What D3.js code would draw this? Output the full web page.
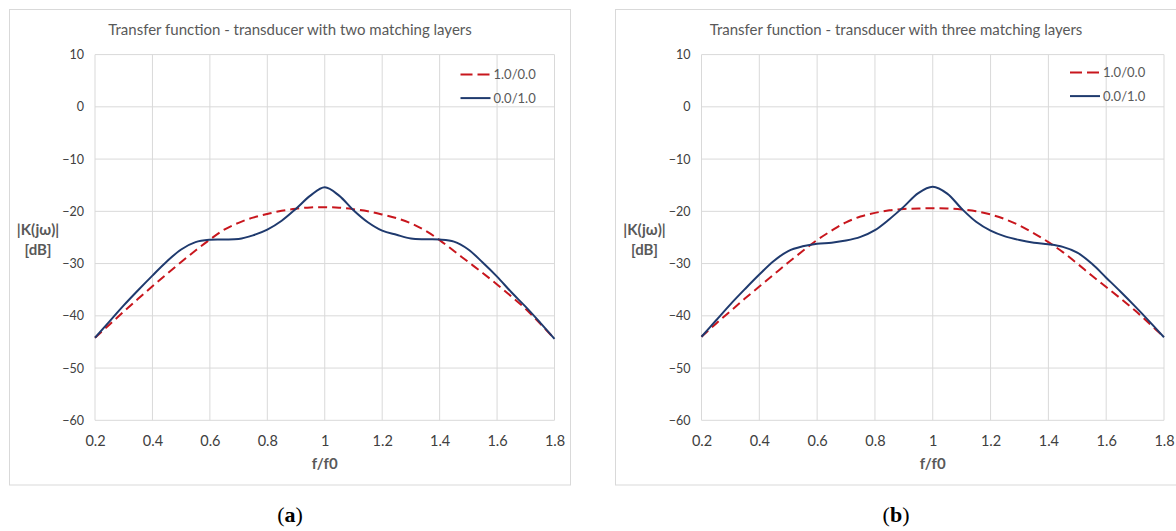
<!DOCTYPE html>
<html>
<head>
<meta charset="utf-8">
<script src="https://cdn.jsdelivr.net/npm/d3@7"></script>
<style>
  body { margin: 0; background: #fff; }
  svg { display: block; }
  .tick text { font-family: Lato, "Liberation Sans", sans-serif; }
</style>
</head>
<body>
<svg id="chart" width="1176" height="531"></svg>
<script>
// f/f0 sample points (shared by every curve)
const fRatio = [0.2, 0.25, 0.3, 0.35, 0.4, 0.45, 0.5, 0.55, 0.6, 0.65, 0.7, 0.75, 0.8, 0.85, 0.9, 0.95, 1.0,
                1.05, 1.1, 1.15, 1.2, 1.25, 1.3, 1.35, 1.4, 1.45, 1.5, 1.55, 1.6, 1.65, 1.7, 1.75, 1.8];

// |K(jw)| in dB, transducer with two matching layers
const twoLayers_10 = [-44.2, -41.7, -39.2, -36.75, -34.35, -32.0, -29.7, -27.5, -25.4, -23.5, -22.2, -21.2, -20.5,
                      -19.9, -19.5, -19.25, -19.2, -19.3, -19.6, -20.0, -20.6, -21.3, -22.3, -23.7, -25.5, -27.6,
                      -29.7, -31.8, -34.0, -36.3, -38.7, -41.5, -44.4];
const twoLayers_01 = [-44.2, -41.1, -38.0, -35.1, -32.3, -29.6, -27.3, -25.9, -25.45, -25.4, -25.3, -24.6, -23.5,
                      -21.8, -19.5, -17.0, -15.4, -17.0, -19.8, -22.1, -23.7, -24.5, -25.2, -25.35, -25.4, -25.8,
                      -27.3, -29.8, -32.5, -35.5, -38.3, -41.3, -44.4];

// |K(jw)| in dB, transducer with three matching layers
const threeLayers_10 = [-44.0, -41.5, -39.1, -36.7, -34.4, -32.1, -29.8, -27.6, -25.5, -23.7, -22.1, -21.0, -20.3,
                        -19.8, -19.55, -19.45, -19.4, -19.45, -19.65, -20.0, -20.6, -21.5, -22.7, -24.2, -25.9, -27.8,
                        -30.0, -32.3, -34.5, -36.7, -39.0, -41.5, -44.1];
const threeLayers_01 = [-44.0, -40.9, -37.8, -34.9, -32.1, -29.5, -27.6, -26.7, -26.2, -26.0, -25.6, -24.9, -23.6,
                        -21.5, -19.1, -16.5, -15.3, -16.6, -19.5, -22.0, -23.7, -24.8, -25.5, -26.0, -26.3, -26.8,
                        -27.9, -30.0, -32.7, -35.4, -38.2, -41.1, -44.1];

const seriesNames = ["1.0/0.0", "0.0/1.0"];
const xTicks = [0.2, 0.4, 0.6, 0.8, 1, 1.2, 1.4, 1.6, 1.8];
const yTicks = [10, 0, -10, -20, -30, -40, -50, -60];
const titles = ["Transfer function - transducer with two matching layers",
                "Transfer function - transducer with three matching layers"];
const captions = ["a", "b"];

const colors = ["#c8161d", "#1f3a6e"];
const gridColor = "#d9d9d9";
const textGray = "#595959";
const font = 'Lato, "Liberation Sans", sans-serif';

// panel layout (box = outer frame, plot = grid area)
const panels = [
  {box: [9.5, 9.5], boxW: 561, left: 95, right: 554.5, legendY: 74.5, data: [twoLayers_10, twoLayers_01]},
  {box: [615.5, 9.5], boxW: 561, left: 701.5, right: 1164, legendY: 72.5, data: [threeLayers_10, threeLayers_01]}
];
const plotTop = 54.6, plotBottom = 420.3;

const svg = d3.select("#chart");

panels.forEach(function (p, i) {
  const g = svg.append("g");

  // outer frame
  g.append("rect")
    .attr("x", p.box[0]).attr("y", p.box[1])
    .attr("width", p.boxW).attr("height", 475.5)
    .attr("fill", "#fff")
    .attr("stroke", gridColor);

  const x = d3.scaleLinear().domain([0.2, 1.8]).range([p.left, p.right]);
  const y = d3.scaleLinear().domain([-60, 10]).range([plotBottom, plotTop]);

  // grid
  g.append("g").selectAll("line.v")
    .data(xTicks).enter().append("line")
    .attr("x1", d => x(d)).attr("x2", d => x(d))
    .attr("y1", plotTop).attr("y2", plotBottom)
    .attr("stroke", gridColor);
  g.append("g").selectAll("line.h")
    .data(yTicks).enter().append("line")
    .attr("x1", p.left).attr("x2", p.right)
    .attr("y1", d => y(d)).attr("y2", d => y(d))
    .attr("stroke", gridColor);

  // axes (labels only)
  const xAxis = g.append("g")
    .attr("transform", "translate(0," + plotBottom + ")")
    .call(d3.axisBottom(x).tickValues(xTicks).tickSize(0).tickPadding(15).tickFormat(d3.format("")));
  xAxis.select(".domain").remove();
  xAxis.selectAll("text").attr("font-size", 14.5).attr("fill", "#404040");

  const yAxis = g.append("g")
    .attr("transform", "translate(" + p.left + ",0)")
    .call(d3.axisLeft(y).tickValues(yTicks).tickSize(0).tickPadding(11));
  yAxis.select(".domain").remove();
  yAxis.selectAll("text").attr("font-size", 12.5).attr("fill", "#404040");

  // title
  const cx = p.box[0] + p.boxW / 2;
  g.append("text")
    .attr("x", cx).attr("y", 34.5)
    .attr("text-anchor", "middle")
    .attr("font-family", font).attr("font-size", 15)
    .attr("fill", textGray)
    .text(titles[i]);

  // axis titles
  g.append("text")
    .attr("x", (p.left + p.right) / 2).attr("y", 468.5)
    .attr("text-anchor", "middle")
    .attr("font-family", font).attr("font-size", 15).attr("font-weight", "bold")
    .attr("fill", textGray)
    .text("f/f0");
  const yt = g.append("text")
    .attr("text-anchor", "middle")
    .attr("font-family", font).attr("font-size", 15).attr("font-weight", "bold")
    .attr("fill", textGray);
  yt.append("tspan").attr("x", p.left - 57).attr("y", 235).text("|K(jω)|");
  yt.append("tspan").attr("x", p.left - 57).attr("y", 254.5).text("[dB]");

  // curves
  const line = d3.line()
    .x((d, k) => x(fRatio[k]))
    .y(d => y(d))
    .curve(d3.curveCatmullRom.alpha(0.5));

  p.data.forEach(function (vals, s) {
    g.append("path")
      .datum(vals)
      .attr("d", line)
      .attr("fill", "none")
      .attr("stroke", colors[s])
      .attr("stroke-width", 2)
      .attr("stroke-dasharray", s === 0 ? "9,5" : null);
  });

  // legend
  const legend = g.append("g")
    .attr("transform", "translate(" + (p.right - 94) + "," + p.legendY + ")");
  seriesNames.forEach(function (name, s) {
    legend.append("line")
      .attr("x1", 0).attr("x2", 30)
      .attr("y1", s * 23.6).attr("y2", s * 23.6)
      .attr("stroke", colors[s]).attr("stroke-width", 2)
      .attr("stroke-dasharray", s === 0 ? "12,5" : null);
    legend.append("text")
      .attr("x", 33).attr("y", s * 23.6 + 4.5)
      .attr("font-family", font).attr("font-size", 13)
      .attr("fill", textGray)
      .text(name);
  });

  // caption (a) / (b)
  const cap = svg.append("text")
    .attr("x", cx).attr("y", 522)
    .attr("text-anchor", "middle")
    .attr("font-family", '"Liberation Serif", "DejaVu Serif", serif')
    .attr("font-size", 22)
    .attr("fill", "#000");
  cap.append("tspan").text("(");
  cap.append("tspan").attr("font-weight", "bold").text(captions[i]);
  cap.append("tspan").text(")");
});
</script>
</body>
</html>
